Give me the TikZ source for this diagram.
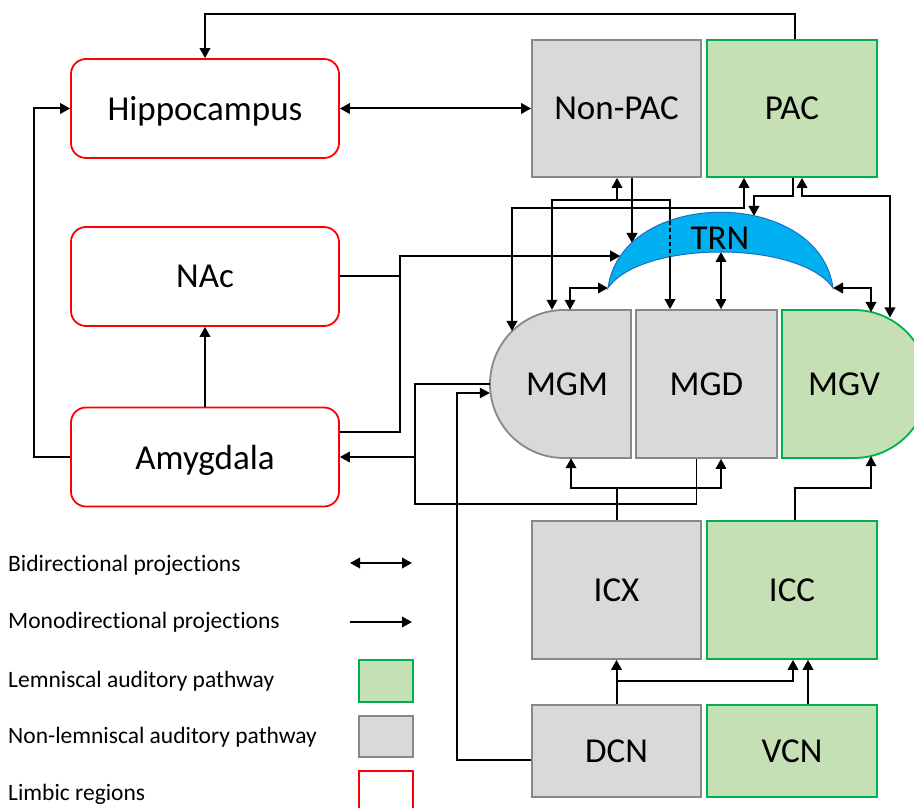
\documentclass[tikz,border=0pt]{standalone}
\usepackage{fontspec}
\setmainfont{Carlito}[Ligatures=NoCommon]
\usetikzlibrary{arrows.meta}
\definecolor{limred}{HTML}{FF0000}
\definecolor{nlfill}{HTML}{D9D9D9}
\definecolor{nlline}{HTML}{888888}
\definecolor{lemfill}{HTML}{C5E0B4}
\definecolor{lemline}{HTML}{00B050}
\definecolor{trnfill}{HTML}{00B0F0}
\definecolor{trnline}{HTML}{1F6FB8}

\begin{document}
\begin{tikzpicture}[x=1pt, y=1pt,
  region/.style={font=\fontsize{35}{42}\selectfont, align=center, inner sep=0pt, text depth=0pt},
  limbic/.style={region, draw=limred, line width=1.8pt, rounded corners=15pt, minimum width=268pt, minimum height=99pt},
  nonlem/.style={region, draw=nlline, fill=nlfill, line width=1.8pt, minimum width=169pt, minimum height=137pt},
  lem/.style={region, draw=lemline, fill=lemfill, line width=1.8pt, minimum width=170pt, minimum height=137pt},
  key/.style={font=\fontsize{23.5}{28}\selectfont, anchor=base west, inner sep=0pt},
  swatch/.style={line width=1.8pt, minimum width=54pt, minimum height=42pt, inner sep=0pt},
  mono/.style={-{Triangle[length=10pt,width=10.5pt]}, line width=2pt},
  bi/.style={{Triangle[length=10pt,width=10.5pt]}-{Triangle[length=10pt,width=10.5pt]}, line width=2pt},
  fineline/.style={line width=1.3pt}
]
  \useasboundingbox (0,0) rectangle (914,807);

  \node[limbic] (hippo) at (205,698.5) {Hippocampus};
  \node[limbic] (nac) at (205,530.5) {NAc};
  \node[limbic] (amyg) at (205,350) {Amygdala};
  \node[nonlem] (nonpac) at (616.5,698.5) {Non-PAC};
  \node[lem] (pac) at (792,698.5) {PAC};
  \path[draw=nlline, fill=nlfill, line width=1.8pt] (631,497) -- (564,497) arc[start angle=90, end angle=270, radius=74] -- (631,349) -- cycle;
  \node[region, minimum width=154pt, minimum height=148pt] (mgm) at (567,423) {MGM};
  \node[nonlem, minimum width=141pt, minimum height=148pt] (mgd) at (706.5,423) {MGD};
  \path[draw=lemline, fill=lemfill, line width=1.8pt] (782,349) -- (854,349) arc[start angle=-90, end angle=90, radius=74] -- (782,497) -- cycle;
  \node[region, minimum width=124pt, minimum height=148pt] (mgv) at (844,423) {MGV};
  \node[nonlem, minimum height=138pt] (icx) at (616.5,217) {ICX};
  \node[lem, minimum height=138pt] (icc) at (792,217) {ICC};
  \node[nonlem, minimum height=92pt] (dcn) at (616.5,56) {DCN};
  \node[lem, minimum height=92pt] (vcn) at (792,56) {VCN};

  \coordinate (trnl) at (608,519);
  \coordinate (trnr) at (833,519);
  \coordinate (trnb) at (721,555);
  \coordinate (trnin) at (620,551);
  \coordinate (trnnp) at (632,564);
  \coordinate (trnpac) at (754,591);
  \coordinate (mgmport) at (512,476);
  \coordinate (mgvport) at (890,489.5);
  \coordinate (mgvtop) at (871,495);
  \coordinate (npjoin) at (617,607);
  \coordinate (amjoin) at (415,350);

  \draw[mono] ([xshift=3pt]pac.north) -- ++(0,25) -| (hippo.north);
  \draw[bi] (hippo.east) -- (nonpac.west);
  \draw[mono] (amyg.west) -- ++(-36,0) |- (hippo.west);
  \draw[mono] (amyg.north) -- (nac.south);
  \draw[mono] (nac.east) -- ++(60,0) |- (trnin);
  \draw[mono] ([yshift=25pt]amyg.east) -- ++(60,0) |- (trnin);
  \draw[mono] (mgm.west) -| (amjoin) -- (amyg.east);
  \draw[fineline] ([xshift=-10pt]mgd.south) -- ++(0,-45) -| (amjoin);
  \draw[mono, fineline] ([yshift=-9pt]dcn.west) -- ++(-74,0) |- ([yshift=-9pt]mgm.west);

  \draw[mono] (icx.north) -- ++(0,32) -| ([xshift=4pt]mgm.south);
  \draw[mono] (icx.north) -- ++(0,32) -| ([xshift=14.5pt]mgd.south);
  \draw[mono] ([xshift=3pt]icc.north) -- ++(0,32) -| ([xshift=27pt,yshift=2pt]mgv.south);
  \draw[mono] (dcn.north) -- (icx.south);
  \draw[mono] ([yshift=23pt]dcn.north) -| ([xshift=1pt]icc.south);
  \draw[mono] ([xshift=16pt]vcn.north) -- ([xshift=16pt]icc.south);

  \draw[bi] ([xshift=-15pt]mgm.north) |- (npjoin) -- ([xshift=0.5pt]nonpac.south);
  \draw[mono] (npjoin) -| ([xshift=-36.5pt]mgd.north);
  \draw[mono] ([xshift=15.5pt]nonpac.south) -- (trnnp);
  \draw[bi] ([xshift=-48pt]pac.south) -- ++(0,-30) -| (mgmport);
  \draw[mono] ([xshift=1pt]pac.south) -- ++(0,-18) -| (trnpac);
  \draw[bi] ([xshift=10pt]pac.south) -- ++(0,-18) -| (mgvport);
  \draw[bi] (trnl) -| ([xshift=3pt]mgm.north);
  \draw[bi] (trnb) -- ([xshift=14.5pt]mgd.north);
  \draw[bi] (trnr) -| (mgvtop);

  \path[draw=trnline, fill=trnfill, line width=1pt] (trnl) .. controls (622,620) and (819,620) .. (trnr) .. controls (800,567) and (641,567) .. (trnl) -- cycle;
  \node[region] (trn) at (720,569) {TRN};
  \begin{scope}
    \clip (trnl) .. controls (622,620) and (819,620) .. (trnr) .. controls (800,567) and (641,567) .. (trnl) -- cycle;
    \draw[line width=2pt, dash pattern=on 4pt off 3pt] ([xshift=-36.5pt]mgd.north) -- ++(0,110);
  \end{scope}

  \node[key] (kbi) at (8,235) {Bidirectional projections};
  \node[key] (kmono) at (8,178) {Monodirectional projections};
  \node[key] (klem) at (8,120) {Lemniscal auditory pathway};
  \node[key] (knonlem) at (8,64) {Non-lemniscal auditory pathway};
  \node[key] (klimbic) at (8,7) {Limbic regions};
  \coordinate (kbia) at (350,244);
  \coordinate (kbib) at (412,244);
  \coordinate (kmonoa) at (350,185);
  \coordinate (kmonob) at (412,185);
  \draw[bi] (kbia) -- (kbib);
  \draw[mono] (kmonoa) -- (kmonob);
  \node[swatch, draw=lemline, fill=lemfill] (slem) at (386,126) {};
  \node[swatch, draw=nlline, fill=nlfill, minimum height=41pt] (snonlem) at (386,70.5) {};
  \node[swatch, draw=limred] (slimbic) at (386,15) {};
\end{tikzpicture}
\end{document}
